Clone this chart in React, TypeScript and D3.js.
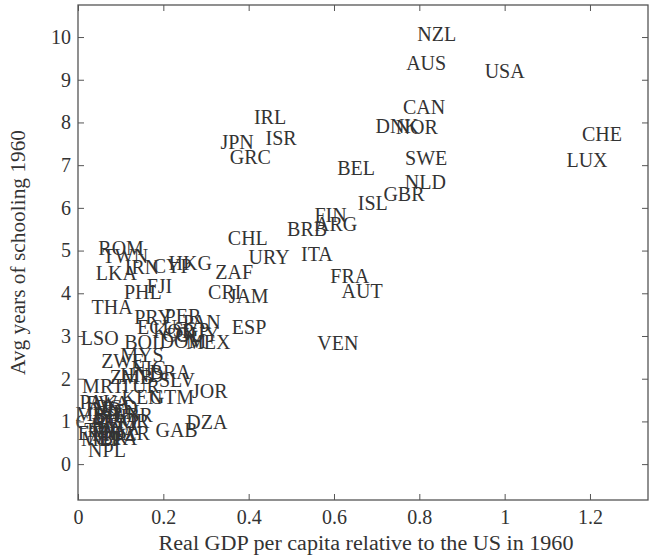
import React, { useEffect, useRef } from "react";
import * as d3 from "d3";

const width = 658;
const height = 557;
const margin = { top: 5, right: 10, bottom: 57, left: 78 };
const font = "'Liberation Serif', 'Times New Roman', serif";
const ink = "#333";

// country codes, GDP per capita relative to the US (1960), schooling years (1960)
const codes = [
  "NZL", "AUS", "USA", "CAN", "DNK", "NOR", "SWE", "NLD", "GBR", "ISL",
  "BEL", "CHE", "LUX", "IRL", "ISR", "JPN", "GRC", "FIN", "ARG", "BRB",
  "CHL", "URY", "ITA", "ZAF", "FRA", "AUT", "CRI", "JAM", "ESP", "VEN",
  "ROM", "TWN", "LKA", "IRN", "CYP", "HKG", "FJI", "PHL", "THA", "PRY",
  "PER", "PAN", "ECU", "KOR", "SGP", "COL", "GUY", "BOL", "DOM", "MEX",
  "LSO", "MYS", "ZWE", "NIC", "BRA", "HND", "ZMB", "SLV", "MRT", "TUR",
  "KEN", "GTM", "JOR", "PAK", "DZA", "GAB", "NPL", "RWA", "BGD", "IND",
  "MWI", "SEN", "BDI", "LBR", "TGO", "CAF", "CMR", "HTI", "UGA", "TZA",
  "ETH", "MAR", "MOZ", "NER", "MLI", "BFA",
];
const gdp = [
  0.841, 0.816, 1.0, 0.811, 0.748, 0.794, 0.816, 0.814, 0.764, 0.691,
  0.652, 1.228, 1.193, 0.45, 0.476, 0.373, 0.404, 0.592, 0.605, 0.537,
  0.398, 0.448, 0.56, 0.366, 0.637, 0.666, 0.344, 0.4, 0.401, 0.609,
  0.101, 0.111, 0.09, 0.15, 0.221, 0.263, 0.191, 0.152, 0.08, 0.176,
  0.246, 0.29, 0.185, 0.225, 0.265, 0.245, 0.28, 0.155, 0.246, 0.305,
  0.051, 0.15, 0.105, 0.165, 0.216, 0.15, 0.125, 0.232, 0.059, 0.145,
  0.15, 0.22, 0.309, 0.048, 0.302, 0.231, 0.068, 0.07, 0.09, 0.06,
  0.045, 0.1, 0.075, 0.13, 0.09, 0.04, 0.115, 0.07, 0.095, 0.06,
  0.045, 0.115, 0.085, 0.07, 0.05, 0.095,
];
const school = [
  10.07, 9.39, 9.2, 8.37, 7.92, 7.89, 7.17, 6.6, 6.32, 6.11,
  6.93, 7.73, 7.12, 8.13, 7.63, 7.54, 7.19, 5.83, 5.62, 5.5,
  5.29, 4.85, 4.92, 4.5, 4.4, 4.05, 4.03, 3.93, 3.21, 2.83,
  5.05, 4.88, 4.47, 4.62, 4.63, 4.72, 4.17, 4.02, 3.67, 3.44,
  3.47, 3.33, 3.21, 3.12, 3.15, 3.02, 3.05, 2.86, 2.88, 2.86,
  2.95, 2.55, 2.42, 2.25, 2.15, 2.08, 2.05, 1.98, 1.83, 1.83,
  1.57, 1.57, 1.71, 1.45, 0.98, 0.8, 0.33, 1.42, 1.33, 1.28,
  1.18, 1.22, 1.12, 1.15, 1.02, 0.98, 1.0, 0.92, 0.85, 0.8,
  0.72, 0.72, 0.7, 0.6, 0.58, 0.6,
];

const xTicks = [0, 0.2, 0.4, 0.6, 0.8, 1, 1.2];
const xTickLabels = ["0", "0.2", "0.4", "0.6", "0.8", "1", "1.2"];
const yTicks = [0, 1, 2, 3, 4, 5, 6, 7, 8, 9, 10];
const yTickLabels = ["0", "1", "2", "3", "4", "5", "6", "7", "8", "9", "10"];

const xLabel = "Real GDP per capita relative to the US in 1960";
const yLabel = "Avg years of schooling 1960";

const xScale = d3
  .scaleLinear()
  .domain([0, 1.336])
  .range([margin.left, width - margin.right]);
const yScale = d3
  .scaleLinear()
  .domain([-0.84, 10.75])
  .range([height - margin.bottom, margin.top]);

export default function App() {
  const bottomRef = useRef<SVGGElement>(null);
  const topRef = useRef<SVGGElement>(null);
  const leftRef = useRef<SVGGElement>(null);
  const rightRef = useRef<SVGGElement>(null);

  useEffect(() => {
    document.body.style.margin = "0";

    const style = (g: any) => {
      g.select(".domain").remove();
      g.attr("font-family", font).attr("font-size", 20);
      g.selectAll("line").attr("stroke", "#555");
      g.selectAll("text").attr("fill", ink);
    };

    d3.select(bottomRef.current)
      .call(
        d3
          .axisBottom(xScale)
          .tickValues(xTicks)
          .tickFormat((d, i) => xTickLabels[i])
          .tickSizeInner(-6)
          .tickSizeOuter(0)
          .tickPadding(10)
      )
      .call(style);
    d3.select(topRef.current)
      .call(
        d3
          .axisTop(xScale)
          .tickValues(xTicks)
          .tickFormat(() => "")
          .tickSizeInner(-6)
          .tickSizeOuter(0)
      )
      .call(style);
    d3.select(leftRef.current)
      .call(
        d3
          .axisLeft(yScale)
          .tickValues(yTicks)
          .tickFormat((d, i) => yTickLabels[i])
          .tickSizeInner(-6)
          .tickSizeOuter(0)
          .tickPadding(7)
      )
      .call(style);
    d3.select(rightRef.current)
      .call(
        d3
          .axisRight(yScale)
          .tickValues(yTicks)
          .tickFormat(() => "")
          .tickSizeInner(-6)
          .tickSizeOuter(0)
      )
      .call(style);
  }, []);

  const x0 = margin.left;
  const x1 = width - margin.right;
  const y0 = margin.top;
  const y1 = height - margin.bottom;

  return (
    <svg
      width={width}
      height={height}
      style={{ display: "block", background: "#fff" }}
    >
      <g>
        {codes.map((c, i) => (
          <text
            key={c}
            x={xScale(gdp[i])}
            y={yScale(school[i])}
            textAnchor="middle"
            dominantBaseline="central"
            fontFamily={font}
            fontSize={20}
            fill={ink}
          >
            {c}
          </text>
        ))}
      </g>
      <g ref={bottomRef} transform={`translate(0,${y1})`} />
      <g ref={topRef} transform={`translate(0,${y0})`} />
      <g ref={leftRef} transform={`translate(${x0},0)`} />
      <g ref={rightRef} transform={`translate(${x1},0)`} />
      <rect
        x={x0}
        y={y0}
        width={x1 - x0}
        height={y1 - y0}
        fill="none"
        stroke="#555"
        strokeWidth={1.3}
      />
      <text
        x={(x0 + x1) / 2 + 3}
        y={543}
        textAnchor="middle"
        dominantBaseline="central"
        fontFamily={font}
        fontSize={20}
        fill={ink}
        textLength={415}
        lengthAdjust="spacingAndGlyphs"
      >
        {xLabel}
      </text>
      <text
        transform={`translate(18,${(y0 + y1) / 2}) rotate(-90)`}
        textAnchor="middle"
        dominantBaseline="central"
        fontFamily={font}
        fontSize={20}
        fill={ink}
        textLength={245}
        lengthAdjust="spacingAndGlyphs"
      >
        {yLabel}
      </text>
    </svg>
  );
}
